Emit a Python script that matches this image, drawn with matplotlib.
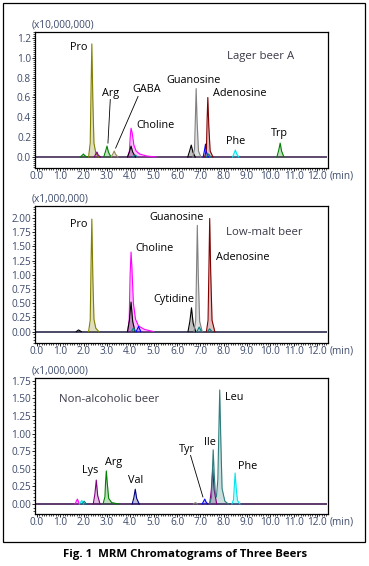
import matplotlib
matplotlib.use("Agg")
import matplotlib.pyplot as plt
from matplotlib.patches import Rectangle
from matplotlib.ticker import MultipleLocator, FormatStrFormatter

plt.rcParams['font.family'] = ['Open Sans', 'DejaVu Sans']

W, H = 369, 566
AX_COLOR = '#3d4a6b'
XMIN, XMAX = -0.086, 12.47

# ---- Lager beer A (x10,000,000) ----
lager_t = [
    [1.85, 1.95, 1.99, 2.04, 2.15],
    [2.21, 2.28, 2.32, 2.35, 2.39, 2.44, 2.52, 2.65],
    [2.45, 2.52, 2.57, 2.62, 2.72],
    [2.86, 2.94, 3.00, 3.06, 3.17],
    [3.18, 3.26, 3.31, 3.36, 3.47],
    [3.88, 3.96, 4.00, 4.03, 4.08, 4.15, 4.25, 4.40, 4.70, 5.10],
    [3.88, 3.96, 4.03, 4.10, 4.22],
    [4.10, 4.20, 4.32],
    [6.46, 6.54, 6.61, 6.68, 6.78],
    [6.68, 6.75, 6.79, 6.82, 6.86, 6.92, 7.02],
    [7.12, 7.18, 7.22, 7.26, 7.34],
    [7.19, 7.26, 7.29, 7.32, 7.36, 7.42, 7.54],
    [7.25, 7.35, 7.45],
    [8.38, 8.45, 8.50, 8.56, 8.65],
    [10.28, 10.36, 10.42, 10.48, 10.58],
]
lager_y = [
    [0, 0.02, 0.03, 0.015, 0],
    [0, 0.14, 0.74, 1.14, 0.60, 0.14, 0.04, 0],
    [0, 0.03, 0.05, 0.02, 0],
    [0, 0.06, 0.11, 0.05, 0],
    [0, 0.035, 0.06, 0.03, 0],
    [0, 0.06, 0.22, 0.29, 0.24, 0.12, 0.06, 0.03, 0.01, 0],
    [0, 0.05, 0.11, 0.05, 0],
    [0, 0.02, 0],
    [0, 0.06, 0.12, 0.05, 0],
    [0, 0.08, 0.42, 0.69, 0.36, 0.06, 0],
    [0, 0.07, 0.13, 0.05, 0],
    [0, 0.08, 0.38, 0.60, 0.32, 0.06, 0],
    [0, 0.03, 0],
    [0, 0.04, 0.07, 0.03, 0],
    [0, 0.07, 0.14, 0.06, 0],
]
lager_colors = ['#008000', '#808000', '#800080', '#008000', '#9a8a50', '#ff00ff',
                '#000000', '#008080', '#000000', '#808080', '#0000ff', '#800000',
                '#008080', '#00e5ee', '#008000']
lager_labels = ['Pro', 'Arg', 'GABA', 'Choline', 'Guanosine', 'Adenosine', 'Phe', 'Trp']
lager_label_x = [1.80, 3.16, 4.69, 5.07, 6.72, 8.67, 8.51, 10.40]
lager_label_y = [1.10, 0.64, 0.68, 0.32, 0.77, 0.64, 0.16, 0.24]

# ---- Low-malt beer (x1,000,000) ----
lowmalt_t = [
    [1.68, 1.78, 1.90],
    [2.21, 2.28, 2.32, 2.35, 2.39, 2.44, 2.52, 2.65],
    [3.88, 3.95, 3.99, 4.03, 4.07, 4.13, 4.22, 4.35, 4.60, 5.00],
    [3.88, 3.96, 4.03, 4.10, 4.20],
    [4.05, 4.14, 4.22],
    [4.25, 4.35, 4.45],
    [6.47, 6.55, 6.62, 6.69, 6.80],
    [6.73, 6.80, 6.84, 6.87, 6.91, 6.97, 7.08],
    [6.85, 6.95, 7.05],
    [7.26, 7.33, 7.37, 7.40, 7.44, 7.50, 7.62],
    [7.30, 7.40, 7.50],
]
lowmalt_y = [
    [0, 0.03, 0],
    [0, 0.20, 1.30, 1.98, 1.00, 0.22, 0.06, 0],
    [0, 0.20, 1.00, 1.40, 1.10, 0.50, 0.22, 0.10, 0.04, 0],
    [0, 0.20, 0.52, 0.18, 0],
    [0, 0.07, 0],
    [0, 0.09, 0],
    [0, 0.18, 0.42, 0.15, 0],
    [0, 0.20, 1.15, 1.87, 1.00, 0.18, 0],
    [0, 0.08, 0],
    [0, 0.20, 1.20, 1.99, 1.10, 0.20, 0],
    [0, 0.05, 0],
]
lowmalt_colors = ['#000000', '#808000', '#ff00ff', '#000000', '#008080', '#0000ff',
                  '#000000', '#808080', '#008080', '#800000', '#008080']
lowmalt_labels = ['Pro', 'Choline', 'Guanosine', 'Adenosine', 'Cytidine']
lowmalt_label_x = [1.80, 5.04, 5.98, 8.83, 5.85]
lowmalt_label_y = [1.89, 1.46, 2.00, 1.30, 0.56]

# ---- Non-alcoholic beer (x1,000,000) ----
nonalc_t = [
    [1.63, 1.73, 1.82],
    [1.82, 1.92, 2.00],
    [1.94, 2.02, 2.12],
    [2.41, 2.48, 2.54, 2.60, 2.70],
    [2.83, 2.91, 2.94, 2.97, 3.01, 3.07, 3.20, 3.50],
    [4.08, 4.15, 4.21, 4.27, 4.38],
    [6.70, 6.79, 6.88],
    [7.08, 7.14, 7.19, 7.24, 7.32],
    [7.40, 7.47, 7.53, 7.59, 7.70],
    [7.40, 7.48, 7.52, 7.55, 7.59, 7.64, 7.69, 7.75, 7.79, 7.83, 7.87, 7.93, 8.05, 8.20],
    [8.35, 8.42, 8.46, 8.49, 8.53, 8.59, 8.70],
]
nonalc_y = [
    [0, 0.07, 0],
    [0, 0.05, 0],
    [0, 0.04, 0],
    [0, 0.14, 0.34, 0.12, 0],
    [0, 0.10, 0.32, 0.47, 0.30, 0.08, 0.02, 0],
    [0, 0.09, 0.21, 0.08, 0],
    [0, 0.02, 0],
    [0, 0.04, 0.07, 0.03, 0],
    [0, 0.20, 0.50, 0.20, 0],
    [0, 0.10, 0.50, 0.77, 0.45, 0.15, 0.10, 0.35, 1.00, 1.62, 1.00, 0.22, 0.04, 0],
    [0, 0.06, 0.28, 0.44, 0.25, 0.05, 0],
]
nonalc_colors = ['#ff00ff', '#00e5ee', '#008080', '#800080', '#008000', '#000080',
                 '#808080', '#0000ff', '#800080', '#2e7d7d', '#00e5ee']
nonalc_labels = ['Lys', 'Arg', 'Val', 'Tyr', 'Ile', 'Leu', 'Phe']
nonalc_label_x = [2.28, 3.27, 4.21, 6.42, 7.39, 8.47, 9.02]
nonalc_label_y = [0.48, 0.59, 0.33, 0.78, 0.88, 1.51, 0.53]

x_ticks = [0, 1, 2, 3, 4, 5, 6, 7, 8, 9, 10, 11, 12]


def make_axes(fig, left, top, right, bottom):
    return fig.add_axes([left / W, 1 - bottom / H, (right - left) / W, (bottom - top) / H])


def draw_panel(ax, ts, ys, colors, labels, lx, ly, title, tx, ty, scale,
               ylim, ystep, yminor, yfmt, base_color):
    ax.set_xlim(XMIN, XMAX)
    ax.set_ylim(*ylim)
    ax.plot([XMIN, XMAX - 0.05], [0, 0], color=base_color, lw=1.4, zorder=2,
            solid_capstyle='butt')
    for t, y, c in zip(ts, ys, colors):
        ax.fill_between(t, 0, y, color=c, alpha=0.25, lw=0, zorder=3)
        ax.plot(t, y, color=c, lw=0.8, zorder=4)
    for s, x, y in zip(labels, lx, ly):
        ax.text(x, y, s, ha='center', va='center', fontsize=7.8, color='black', zorder=5)
    ax.text(tx, ty, title, ha='center', va='center', fontsize=8.2, color='#3a3a48')

    ax.set_xticks(x_ticks)
    ax.xaxis.set_minor_locator(MultipleLocator(0.1))
    ax.xaxis.set_major_formatter(FormatStrFormatter('%.1f'))
    ax.yaxis.set_major_locator(MultipleLocator(ystep))
    ax.yaxis.set_minor_locator(MultipleLocator(yminor))
    ax.yaxis.set_major_formatter(FormatStrFormatter(yfmt))
    ax.tick_params(which='major', length=2.2, width=0.6, labelsize=7.2,
                   labelcolor=AX_COLOR, color='black')
    ax.tick_params(axis='x', which='major', pad=0.2)
    ax.tick_params(axis='y', which='major', pad=0.6)
    ax.tick_params(which='minor', length=1.2, width=0.5, color='black')
    for sp in ax.spines.values():
        sp.set_linewidth(0.9)
    ax.annotate('(min)', xy=(1, 0), xycoords='axes fraction', xytext=(1.5, -5.8),
                textcoords='offset points', ha='left', va='center',
                fontsize=7.2, color=AX_COLOR)
    ax.annotate(scale, xy=(0, 1), xycoords='axes fraction', xytext=(-2.2, 5),
                textcoords='offset points', ha='left', va='center',
                fontsize=7.3, color=AX_COLOR)


fig = plt.figure(figsize=(W / 100, H / 100), dpi=100)

ax1 = make_axes(fig, 35, 32, 328, 168)
draw_panel(ax1, lager_t, lager_y, lager_colors, lager_labels, lager_label_x, lager_label_y,
           'Lager beer A', 9.59, 1.01, '(x10,000,000)', (-0.111, 1.26), 0.2, 0.02,
           '%.1f', '#5e4a6e')
ax1.plot([3.14, 3.04], [0.58, 0.14], color='black', lw=0.6)
ax1.plot([4.33, 3.37], [0.61, 0.09], color='black', lw=0.6)

ax2 = make_axes(fig, 35, 206, 328, 343)
draw_panel(ax2, lowmalt_t, lowmalt_y, lowmalt_colors, lowmalt_labels, lowmalt_label_x,
           lowmalt_label_y, 'Low-malt beer', 9.76, 1.75, '(x1,000,000)', (-0.2, 2.21),
           0.25, 0.05, '%.2f', '#4a4a66')

ax3 = make_axes(fig, 35, 378, 328, 514)
draw_panel(ax3, nonalc_t, nonalc_y, nonalc_colors, nonalc_labels, nonalc_label_x,
           nonalc_label_y, 'Non-alcoholic beer', 3.09, 1.49, '(x1,000,000)', (-0.142, 1.79),
           0.25, 0.05, '%.2f', '#5a3a6a')
ax3.plot([6.58, 7.11], [0.69, 0.10], color='black', lw=0.6)

fig.add_artist(Rectangle((3 / W, 1 - 542 / H), 362 / W, 539 / H, fill=False,
                         lw=0.9, edgecolor='black', transform=fig.transFigure))
fig.text(185 / W, 1 - 554 / H, 'Fig. 1  MRM Chromatograms of Three Beers',
         ha='center', va='center', fontsize=8.2, fontweight='bold')

fig.savefig('out.png', dpi=100)
